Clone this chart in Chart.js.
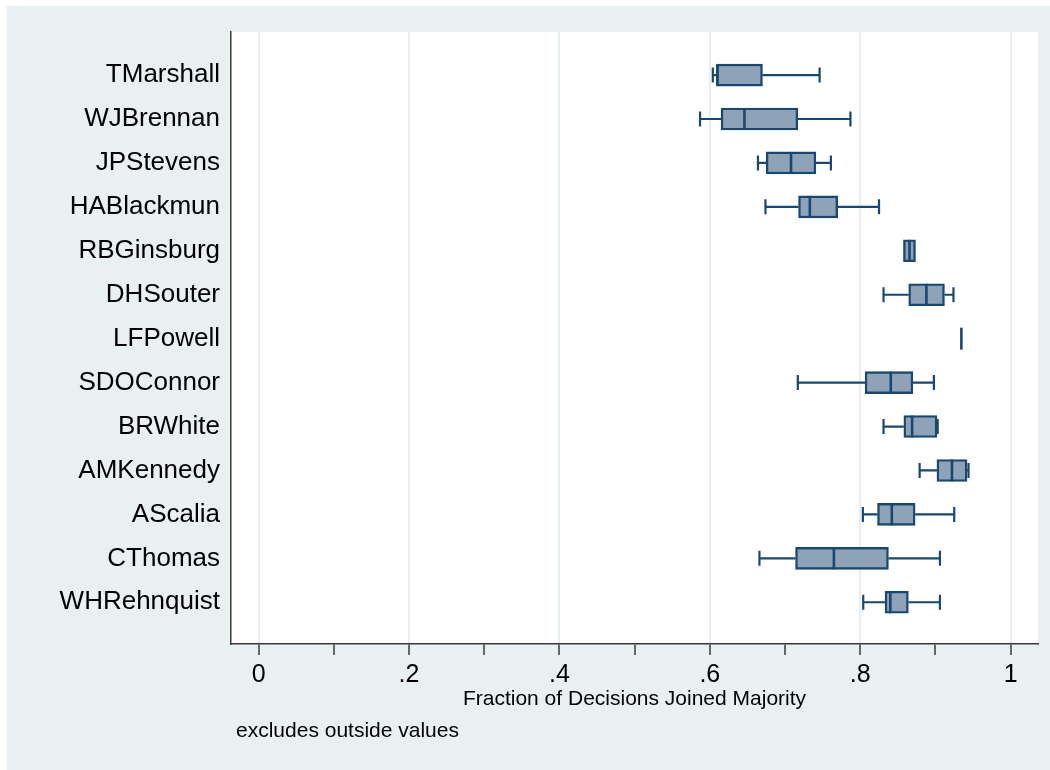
<!DOCTYPE html>
<html>
<head>
<meta charset="utf-8">
<script src="https://cdn.jsdelivr.net/npm/chart.js@4.4.1/dist/chart.umd.min.js"></script>
<style>
  body { margin: 0; background: #ffffff; }
  canvas { display: block; }
</style>
</head>
<body>
<canvas id="myChart" width="1050" height="770"></canvas>
<script>
const justices = ['TMarshall', 'WJBrennan', 'JPStevens', 'HABlackmun', 'RBGinsburg', 'DHSouter', 'LFPowell',
    'SDOConnor', 'BRWhite', 'AMKennedy', 'AScalia', 'CThomas', 'WHRehnquist'];
const whiskerLow  = [0.604, 0.587, 0.664, 0.674, 0.8575, 0.831, 0.9345, 0.717, 0.831, 0.879, 0.8035, 0.666, 0.804];
const q1          = [0.609, 0.615, 0.675, 0.718, 0.8575, 0.8645, 0.9345, 0.8065, 0.858, 0.902, 0.823, 0.714, 0.833];
const median      = [0.610, 0.646, 0.708, 0.733, 0.8655, 0.888, 0.9345, 0.8406, 0.869, 0.922, 0.842, 0.765, 0.840];
const q3          = [0.670, 0.717, 0.741, 0.770, 0.8735, 0.912, 0.9345, 0.870, 0.902, 0.942, 0.873, 0.8375, 0.864];
const whiskerHigh = [0.746, 0.787, 0.761, 0.825, 0.8735, 0.924, 0.9345, 0.898, 0.903, 0.944, 0.925, 0.906, 0.906];
const xTicks = [0, 0.1, 0.2, 0.3, 0.4, 0.5, 0.6, 0.7, 0.8, 0.9, 1];
const xLabelTicks = [0, 0.2, 0.4, 0.6, 0.8, 1];

const navy = '#1a476f';
const boxFill = '#8fa3b8';
const panel = '#e9f0f2';
const axisGray = '#3a3a3a';

Chart.defaults.font.family = "'Liberation Sans', Arial, sans-serif";
Chart.defaults.color = '#000000';

const isLabelTick = v => xLabelTicks.some(t => Math.abs(t - v) < 1e-6);

const background = {
    id: 'background',
    beforeDraw(chart) {
        const { ctx, chartArea } = chart;
        ctx.save();
        ctx.fillStyle = '#ffffff';
        ctx.fillRect(0, 0, chart.width, chart.height);
        ctx.fillStyle = panel;
        ctx.fillRect(7, 6, chart.width - 7, chart.height - 6);
        ctx.fillStyle = '#ffffff';
        ctx.fillRect(chartArea.left, chartArea.top, chartArea.right - chartArea.left, chartArea.bottom - chartArea.top);
        ctx.restore();
    },
    afterDraw(chart) {
        const ctx = chart.ctx;
        ctx.save();
        ctx.fillStyle = '#000000';
        ctx.font = "21px 'Liberation Sans', Arial, sans-serif";
        ctx.textAlign = 'left';
        ctx.textBaseline = 'middle';
        ctx.fillText('excludes outside values', 236, 731);
        ctx.restore();
    }
};

// whiskers, caps and median lines on top of the floating bars
const boxParts = {
    id: 'boxParts',
    afterDatasetsDraw(chart) {
        const ctx = chart.ctx;
        const x = chart.scales.x;
        const meta = chart.getDatasetMeta(0);
        ctx.save();
        ctx.strokeStyle = navy;
        meta.data.forEach((bar, i) => {
            const yc = bar.y;
            const half = bar.height / 2;
            const lo = x.getPixelForValue(whiskerLow[i]);
            const a = x.getPixelForValue(q1[i]);
            const m = x.getPixelForValue(median[i]);
            const b = x.getPixelForValue(q3[i]);
            const hi = x.getPixelForValue(whiskerHigh[i]);
            ctx.lineWidth = 2.2;
            ctx.beginPath();
            ctx.moveTo(lo, yc); ctx.lineTo(a, yc);
            ctx.moveTo(b, yc); ctx.lineTo(hi, yc);
            if (whiskerLow[i] < q1[i]) { ctx.moveTo(lo, yc - 7.5); ctx.lineTo(lo, yc + 7.5); }
            if (whiskerHigh[i] > q3[i]) { ctx.moveTo(hi, yc - 7.5); ctx.lineTo(hi, yc + 7.5); }
            ctx.stroke();
            ctx.lineWidth = 2.6;
            ctx.beginPath();
            ctx.moveTo(m, yc - half); ctx.lineTo(m, yc + half);
            ctx.stroke();
        });
        ctx.restore();
    }
};

const ctx = document.getElementById('myChart').getContext('2d');
const myChart = new Chart(ctx, {
    type: 'bar',
    data: {
        datasets: [{
            data: justices.map((name, i) => ({ x: [q1[i], q3[i]], y: i + 1 })),
            backgroundColor: boxFill,
            borderColor: navy,
            borderWidth: 2.4,
            borderSkipped: false,
            barThickness: 22
        }]
    },
    options: {
        indexAxis: 'y',
        responsive: false,
        animation: false,
        layout: { padding: { left: 0, top: 32, right: 12, bottom: 56 } },
        scales: {
            x: {
                type: 'linear',
                min: -0.0367,
                max: 1.0364,
                afterBuildTicks: scale => { scale.ticks = xTicks.map(v => ({ value: v })); },
                afterFit: scale => { scale.height = 70; },
                ticks: {
                    autoSkip: false,
                    maxRotation: 0,
                    padding: 5,
                    font: { size: 25 },
                    color: '#000000',
                    callback: v => isLabelTick(v) ? String(Number(v.toFixed(1))).replace(/^0\./, '.') : ''
                },
                grid: {
                    color: c => isLabelTick(c.tick.value) ? '#e6eff1' : 'rgba(0,0,0,0)',
                    lineWidth: 2,
                    drawTicks: true,
                    tickLength: 11,
                    tickColor: axisGray,
                    tickWidth: 1.5
                },
                border: { display: true, color: axisGray, width: 1.5 },
                title: {
                    display: true,
                    text: 'Fraction of Decisions Joined Majority',
                    font: { size: 21 },
                    color: '#000000',
                    padding: { top: 0, bottom: 2 }
                }
            },
            y: {
                type: 'linear',
                reverse: true,
                offset: false,
                min: 0.02,
                max: 13.95,
                afterBuildTicks: scale => { scale.ticks = justices.map((n, i) => ({ value: i + 1 })); },
                afterFit: scale => { scale.width = 231; },
                ticks: {
                    autoSkip: false,
                    padding: 11,
                    font: { size: 26 },
                    color: '#000000',
                    callback: v => justices[v - 1]
                },
                grid: { display: false, drawTicks: false, offset: false },
                border: { display: true, color: axisGray, width: 1.5 }
            }
        },
        plugins: {
            legend: { display: false },
            tooltip: { enabled: false }
        }
    },
    plugins: [background, boxParts]
});
</script>
</body>
</html>
